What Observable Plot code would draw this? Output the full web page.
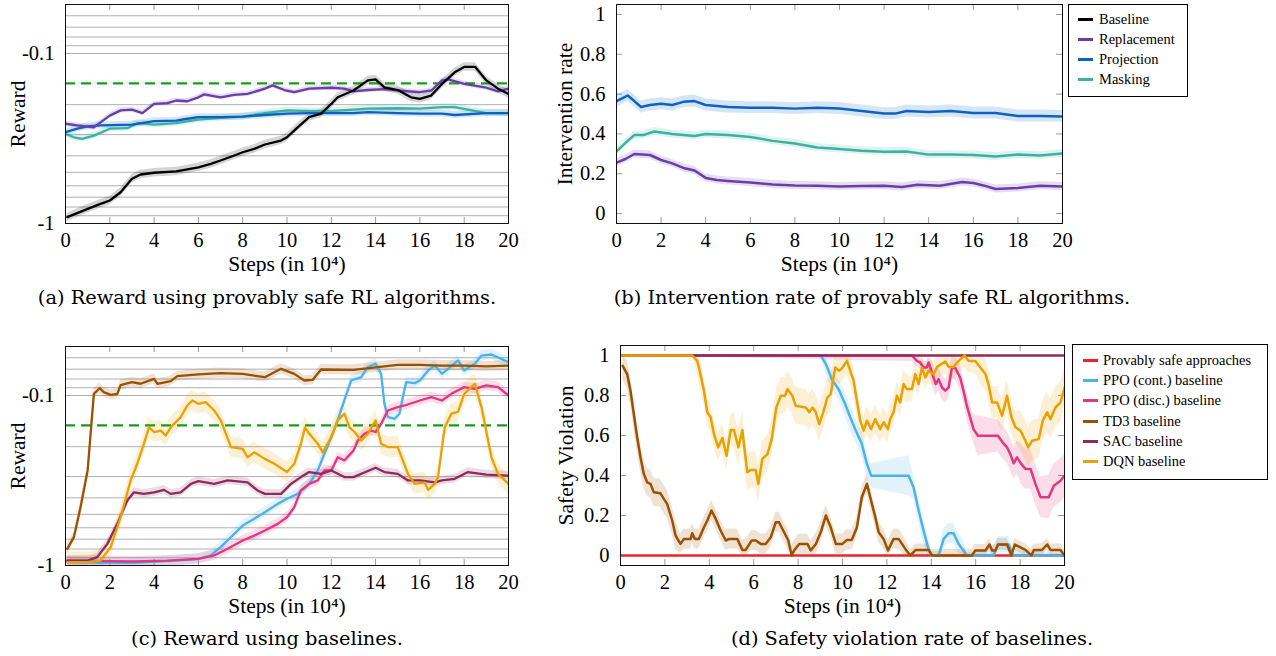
<!DOCTYPE html>
<html><head><meta charset="utf-8">
<script src="https://cdn.jsdelivr.net/npm/d3@7"></script>
<script src="https://cdn.jsdelivr.net/npm/@observablehq/plot@0.6"></script>
<style>
html,body{margin:0;padding:0;background:#fff;}
#root{position:relative;width:1276px;height:656px;overflow:hidden;font-family:"Liberation Serif",serif;color:#000;}
.panel{position:absolute;}
.cap{position:absolute;font-family:"DejaVu Serif",serif;font-size:19.4px;white-space:nowrap;transform:translateX(-50%);line-height:1;}
.legend{position:absolute;box-sizing:border-box;border:1px solid #000;background:#fff;font-family:"Liberation Serif",serif;font-size:14.5px;}
.legend .row{display:flex;align-items:center;white-space:nowrap;}
.legend .sw{display:inline-block;width:15px;height:3px;}
</style></head>
<body><div id="root"></div>
<script>
// ---------------- DATA ----------------
const xTicks = [0, 2, 4, 6, 8, 10, 12, 14, 16, 18, 20];
const rewardTicks = [-1, -0.1];
const rewardGrid = [-0.9, -0.8, -0.7, -0.6, -0.5, -0.4, -0.3, -0.2, -0.1, -0.09, -0.08, -0.07, -0.06];
const rateTicks = [0, 0.2, 0.4, 0.6, 0.8, 1];
const referenceReward = [-0.15];

const xTitle = "Steps (in 10\u2074)";
const captions = [
  "(a) Reward using provably safe RL algorithms.",
  "(b) Intervention rate of provably safe RL algorithms.",
  "(c) Reward using baselines.",
  "(d) Safety violation rate of baselines."
];
const safeNames = ["Baseline", "Replacement", "Projection", "Masking"];
const baseNames = ["Provably safe approaches", "PPO (cont.) baseline", "PPO (disc.) baseline", "TD3 baseline", "SAC baseline", "DQN baseline"];

// (a) reward, provably safe algorithms
const aBaseline = [[0.08,-0.918],[1,-0.82],[1.58,-0.766],[2,-0.732],[2.49,-0.655],[3,-0.546],[3.39,-0.515],[4,-0.503],[5,-0.494],[6,-0.467],[6.56,-0.446],[7,-0.426],[7.62,-0.398],[8,-0.381],[8.52,-0.364],[9,-0.343],[9.73,-0.325],[10,-0.311],[10.48,-0.272],[11,-0.237],[11.54,-0.226],[12,-0.198],[12.29,-0.181],[13,-0.165],[13.65,-0.144],[14,-0.142],[14.4,-0.158],[15,-0.164],[15.6,-0.181],[16,-0.185],[16.5,-0.177],[17,-0.151],[17.57,-0.129],[18,-0.12],[18.5,-0.12],[19,-0.144],[19.53,-0.161],[20,-0.173]];
const aReplacement = [[0,-0.259],[0.53,-0.265],[1,-0.269],[1.28,-0.272],[1.58,-0.254],[2,-0.232],[2.49,-0.216],[3,-0.214],[3.47,-0.224],[4,-0.198],[4.6,-0.196],[5,-0.189],[5.5,-0.191],[6,-0.181],[6.26,-0.174],[7,-0.181],[7.62,-0.175],[8.22,-0.173],[9,-0.161],[9.35,-0.154],[9.88,-0.164],[10.33,-0.169],[11,-0.161],[12,-0.159],[12.59,-0.161],[13,-0.167],[13.65,-0.164],[14.4,-0.162],[15,-0.165],[16,-0.169],[16.52,-0.165],[17,-0.144],[17.27,-0.142],[18,-0.151],[19,-0.159],[19.53,-0.167],[20,-0.161]];
const aProjection = [[0,-0.29],[0.53,-0.277],[1,-0.268],[1.58,-0.265],[3,-0.262],[4,-0.25],[5,-0.248],[5.5,-0.242],[6,-0.237],[7,-0.237],[8,-0.235],[9,-0.23],[10,-0.226],[11,-0.224],[12,-0.224],[13,-0.224],[13.65,-0.221],[15,-0.224],[16,-0.226],[17,-0.226],[17.57,-0.23],[19,-0.224],[20,-0.224]];
const aMasking = [[0,-0.297],[0.38,-0.311],[0.75,-0.318],[1.28,-0.304],[2,-0.277],[2.79,-0.275],[3.24,-0.257],[4,-0.262],[5,-0.257],[6,-0.245],[7,-0.239],[8,-0.235],[9,-0.224],[10,-0.216],[11,-0.218],[12,-0.218],[13,-0.214],[13.65,-0.211],[15,-0.21],[16,-0.211],[17,-0.207],[17.57,-0.207],[18.17,-0.214],[19,-0.224],[20,-0.224]];

// (b) intervention rate
const bReplacement = [[0,0.256],[0.4,0.274],[0.8,0.299],[1.5,0.294],[2,0.269],[2.5,0.252],[3,0.229],[3.5,0.216],[4,0.179],[4.5,0.169],[5,0.164],[6,0.156],[7,0.146],[8,0.141],[9,0.14],[10,0.136],[11,0.138],[12,0.14],[12.8,0.133],[13.5,0.145],[14.5,0.14],[15.5,0.158],[16,0.153],[16.5,0.14],[17,0.123],[18,0.128],[19,0.14],[20,0.136]];
const bProjection = [[0,0.565],[0.25,0.578],[0.5,0.593],[0.8,0.565],[1.1,0.535],[1.5,0.545],[2,0.551],[2.5,0.545],[3,0.561],[3.5,0.565],[4,0.545],[5,0.535],[6,0.532],[7,0.532],[8,0.527],[9,0.532],[10,0.528],[11,0.515],[12,0.502],[12.5,0.502],[13,0.515],[14,0.51],[15,0.515],[16,0.505],[17,0.505],[18,0.49],[19,0.49],[20,0.488]];
const bMasking = [[0,0.312],[0.5,0.365],[0.8,0.394],[1.2,0.394],[1.7,0.412],[2.5,0.399],[3.5,0.39],[4,0.399],[5,0.395],[6,0.385],[7,0.365],[8,0.352],[9,0.332],[10,0.324],[11,0.316],[12,0.311],[13,0.312],[14,0.296],[15,0.296],[16,0.294],[17,0.286],[18,0.296],[19,0.291],[20,0.302]];

// (c) reward, baselines
const cTD3 = [[0.08,-0.798],[0.38,-0.681],[0.68,-0.454],[1,-0.276],[1.28,-0.0978],[1.54,-0.0906],[1.73,-0.0955],[2.04,-0.0991],[2.34,-0.0978],[2.49,-0.0869],[3,-0.0835],[3.39,-0.0853],[4,-0.0798],[4.15,-0.0853],[4.75,-0.0824],[5.05,-0.0769],[6,-0.0752],[7,-0.0739],[8,-0.0746],[9,-0.078],[9.73,-0.0697],[10.33,-0.0746],[10.78,-0.0816],[11.16,-0.0809],[11.54,-0.0703],[13,-0.0706],[15,-0.066],[16,-0.066],[17,-0.0667],[18,-0.0667],[19,-0.0675],[20,-0.0667]];
const cSAC = [[0.08,-0.935],[1,-0.935],[1.43,-0.893],[1.89,-0.746],[2.34,-0.569],[2.79,-0.415],[3.09,-0.371],[3.54,-0.379],[4,-0.371],[4.45,-0.359],[4.75,-0.379],[5.2,-0.371],[5.66,-0.331],[6,-0.319],[6.71,-0.331],[7.32,-0.316],[8.22,-0.324],[8.67,-0.362],[9,-0.379],[9.73,-0.379],[10.18,-0.331],[10.63,-0.302],[11,-0.282],[11.54,-0.289],[12,-0.276],[12.59,-0.302],[13,-0.302],[14,-0.266],[14.4,-0.282],[15,-0.289],[15.46,-0.316],[16,-0.316],[16.67,-0.324],[17,-0.316],[17.57,-0.309],[18.17,-0.282],[19,-0.292],[20,-0.296]];
const cDQN = [[0.08,-0.956],[1,-0.956],[1.58,-0.935],[2.04,-0.78],[2.49,-0.52],[2.94,-0.316],[3.24,-0.252],[3.54,-0.192],[3.77,-0.154],[4,-0.164],[4.3,-0.161],[4.52,-0.172],[4.75,-0.154],[5.2,-0.134],[5.5,-0.1145],[5.73,-0.107],[6,-0.112],[6.33,-0.1094],[6.71,-0.1225],[7.01,-0.14],[7.47,-0.201],[8,-0.206],[8.22,-0.231],[8.52,-0.216],[9,-0.236],[9.43,-0.252],[10,-0.282],[10.33,-0.252],[10.63,-0.192],[10.81,-0.154],[11.01,-0.168],[11.39,-0.192],[11.61,-0.216],[12,-0.176],[12.29,-0.14],[12.59,-0.128],[12.82,-0.154],[13.05,-0.164],[13.35,-0.184],[13.65,-0.168],[14,-0.14],[14.25,-0.192],[14.55,-0.201],[15,-0.201],[15.46,-0.289],[15.76,-0.331],[16.21,-0.324],[16.37,-0.359],[16.67,-0.331],[16.82,-0.302],[17.12,-0.154],[17.42,-0.128],[17.72,-0.125],[18,-0.0978],[18.48,-0.0853],[18.78,-0.117],[19.23,-0.231],[19.53,-0.289],[20,-0.331]];
const cPPOcont = [[0.08,-0.956],[1.58,-0.965],[3.09,-0.965],[4.6,-0.943],[5.5,-0.926],[6,-0.914],[6.56,-0.873],[7,-0.78],[7.62,-0.651],[8,-0.582],[8.52,-0.531],[9,-0.486],[9.58,-0.434],[10,-0.405],[10.48,-0.379],[11,-0.331],[11.39,-0.276],[11.69,-0.22],[12,-0.176],[12.29,-0.14],[12.59,-0.107],[12.9,-0.0816],[13.35,-0.078],[13.65,-0.0681],[14,-0.0651],[14.25,-0.0746],[14.4,-0.112],[14.55,-0.134],[14.86,-0.137],[15.08,-0.128],[15.23,-0.1023],[15.38,-0.0835],[15.76,-0.0846],[16,-0.0816],[16.37,-0.0713],[16.67,-0.0667],[17,-0.0746],[17.27,-0.0697],[17.72,-0.0622],[18,-0.0713],[18.48,-0.0651],[18.78,-0.0582],[19.23,-0.0574],[19.68,-0.0609],[20,-0.0637]];
const cPPOdisc = [[0.08,-0.935],[3.09,-0.947],[4.6,-0.935],[6,-0.914],[6.71,-0.873],[7.32,-0.798],[8,-0.713],[8.52,-0.667],[9,-0.623],[9.58,-0.569],[10,-0.52],[10.33,-0.454],[10.63,-0.362],[11,-0.331],[11.39,-0.316],[11.69,-0.276],[12,-0.276],[12.29,-0.231],[12.59,-0.241],[13,-0.211],[13.2,-0.184],[13.5,-0.168],[13.8,-0.161],[14,-0.164],[14.25,-0.147],[14.55,-0.1225],[15,-0.117],[15.31,-0.1145],[16,-0.107],[16.52,-0.1023],[17,-0.107],[17.42,-0.0978],[18,-0.0893],[18.48,-0.0914],[19,-0.0873],[19.53,-0.0893],[20,-0.1]];

// (d) safety violation
const dProvablySafe = [[0,0],[20,0]];
const dSAC = [[0,1],[20,1]];
const dPPOcont = [[0,1],[9.02,1],[9.25,0.957],[9.55,0.874],[9.82,0.832],[10.12,0.757],[10.35,0.691],[10.57,0.632],[10.87,0.557],[11.1,0.458],[11.29,0.399],[12.98,0.399],[13.2,0.341],[13.43,0.225],[13.65,0.125],[13.85,0.042],[14,0],[14.33,0],[14.56,0.083],[14.78,0.111],[15,0.111],[15.23,0.058],[15.45,0.025],[15.6,0],[16.8,0],[17,0.055],[17.49,0.055],[17.67,0],[20,0]];
const dPPOdisc = [[0,1],[13.13,1],[13.35,0.973],[13.5,0.965],[13.65,0.94],[13.8,0.94],[13.88,0.965],[14.03,0.915],[14.2,0.857],[14.33,0.882],[14.48,0.84],[14.63,0.824],[14.78,0.84],[14.93,0.94],[15.08,0.937],[15.3,0.89],[15.45,0.824],[15.6,0.749],[15.75,0.691],[15.9,0.632],[16.1,0.599],[17,0.599],[17.21,0.566],[17.41,0.541],[17.56,0.507],[17.71,0.461],[17.86,0.491],[18.05,0.458],[18.24,0.433],[18.47,0.433],[18.69,0.358],[18.92,0.291],[19.29,0.291],[19.52,0.349],[19.82,0.374],[20,0.399]];
const dTD3 = [[0.1,0.948],[0.3,0.907],[0.45,0.824],[0.6,0.707],[0.75,0.591],[0.9,0.491],[1.05,0.408],[1.2,0.366],[1.35,0.358],[1.5,0.316],[1.8,0.311],[1.95,0.283],[2.1,0.258],[2.33,0.175],[2.48,0.1],[2.7,0.058],[2.86,0.083],[3.16,0.083],[3.23,0.111],[3.35,0.083],[3.53,0.083],[3.76,0.141],[3.91,0.175],[4.1,0.225],[4.29,0.183],[4.51,0.125],[4.74,0.075],[4.89,0.083],[5.26,0.083],[5.49,0.028],[5.64,0.028],[5.91,0.075],[6.09,0.075],[6.32,0.058],[6.54,0.058],[6.77,0.091],[6.99,0.166],[7.14,0.166],[7.37,0.116],[7.56,0.075],[7.71,0],[7.82,0.025],[8.05,0.058],[8.42,0.058],[8.57,0.025],[8.8,0.058],[9.02,0.116],[9.25,0.2],[9.47,0.141],[9.7,0.058],[10,0.058],[10.2,0.078],[10.42,0.078],[10.65,0.141],[10.87,0.291],[11.1,0.358],[11.25,0.291],[11.48,0.191],[11.63,0.116],[11.85,0.083],[12.05,0.025],[12.3,0.083],[12.53,0.083],[12.83,0.033],[13.05,0],[13.3,0.028],[13.88,0.028],[14.03,0],[15.83,0],[15.98,0.025],[16.44,0.025],[16.62,0.055],[16.74,0.025],[16.89,0.025],[17.01,0.055],[17.41,0.055],[17.61,0],[17.76,0.055],[18.24,0.028],[18.51,0],[18.62,0.028],[18.99,0.028],[19.22,0.055],[19.37,0.028],[19.82,0.028],[20,0]];
const dDQN = [[0,1],[3.23,1],[3.46,0.973],[3.6,0.907],[3.76,0.824],[3.91,0.716],[4.06,0.691],[4.21,0.607],[4.4,0.541],[4.59,0.587],[4.78,0.499],[4.96,0.627],[5.11,0.627],[5.31,0.541],[5.49,0.627],[5.71,0.416],[5.86,0.428],[6.09,0.428],[6.21,0.358],[6.39,0.483],[6.62,0.507],[6.81,0.582],[7.02,0.74],[7.22,0.799],[7.41,0.799],[7.52,0.832],[7.74,0.799],[7.89,0.749],[8.35,0.74],[8.5,0.716],[8.65,0.74],[8.8,0.716],[8.95,0.657],[9.13,0.716],[9.32,0.79],[9.47,0.807],[9.67,0.94],[9.85,0.923],[10,0.94],[10.2,0.973],[10.35,0.923],[10.5,0.874],[10.65,0.774],[10.8,0.674],[10.95,0.624],[11.1,0.674],[11.29,0.632],[11.47,0.682],[11.7,0.632],[11.85,0.666],[12.05,0.632],[12.15,0.682],[12.3,0.716],[12.45,0.799],[12.6,0.765],[12.75,0.857],[12.9,0.832],[13.13,0.832],[13.28,0.907],[13.43,0.857],[13.58,0.94],[13.73,0.89],[13.88,0.923],[14.11,0.907],[14.26,0.943],[14.63,0.97],[14.78,0.943],[15,0.943],[15.23,0.973],[15.5,1],[15.68,0.973],[15.98,0.973],[16.21,0.94],[16.44,0.907],[16.59,0.849],[16.74,0.765],[16.96,0.765],[17.19,0.699],[17.41,0.799],[17.61,0.691],[17.79,0.641],[18.02,0.624],[18.24,0.574],[18.36,0.541],[18.54,0.574],[18.84,0.582],[19.02,0.674],[19.22,0.716],[19.37,0.682],[19.59,0.74],[19.82,0.765],[20,0.84]];
// (d) half-width of the shaded bands, piecewise from the given step onward
const dPPOcontBand = [[0,0],[9.1,0.05],[10,0.06],[11.3,0.1],[13.1,0.06],[13.9,0.02],[14.4,0.05],[15.5,0.01],[16.8,0.04],[17.7,0.005]];
const dPPOdiscBand = [[0,0],[13.1,0.03],[14,0.06],[15.5,0.07],[16,0.1],[17,0.08],[18,0.1],[19,0.11]];
const dTD3Band = [[0,0.07],[2.5,0.05],[13,0.03]];
const dDQNBand = [[0,0],[3.3,0.07],[5,0.09],[9.5,0.07],[13,0.06],[16,0.08],[18,0.1]];

// ---------------- STYLE ----------------
const C = {
  Baseline: "#000000", Replacement: "#6a3ea8", Projection: "#0b63c1", Masking: "#3bb1a2",
  safe: "#e8252d", ppoc: "#4db2e8", ppod: "#e2367f", td3: "#9b5100", sac: "#8e2b5c", dqn: "#e9a100",
  ref: "#16a016"
};
const FONT = "Liberation Serif";
const tickGray = "#9a9a9a";
const TICK_FS = 20.5, TITLE_FS = 21.5;

function rows(pairs) { return pairs.map(([x, y]) => ({x, y})); }
function bandAt(band, x) {
  let w = 0;
  for (const [x0, v] of band) if (x >= x0) w = v;
  return w;
}

function panel(o) {
  const [bl, bt, bw, bh] = o.box;
  const [fl, ft, fr, fb] = o.frame;
  const fw = fr - fl, fh = fb - ft;
  const isLog = o.yType === "log";
  const marks = [];
  if (o.grid) marks.push(Plot.ruleY(o.grid, {stroke: "#b0b0b0", strokeWidth: 1}));
  const innerX = xTicks.filter(v => v > 0 && v < 20);
  marks.push(Plot.ruleX(innerX, {stroke: tickGray, insetBottom: fh - 6}));
  marks.push(Plot.ruleX(innerX, {stroke: tickGray, insetTop: fh - 6}));
  if (o.innerY) {
    marks.push(Plot.ruleY(o.innerY, {stroke: tickGray, insetRight: fw - 6}));
    marks.push(Plot.ruleY(o.innerY, {stroke: tickGray, insetLeft: fw - 6}));
  }
  for (const s of o.series) {
    if (!s.spread && !s.band) continue;
    const r = rows(s.data);
    let opts;
    if (isLog) {
      const k = Math.pow(10, s.spread);
      opts = {y1: d => d.y * k, y2: d => d.y / k};
    } else if (s.band) {
      opts = {y1: d => Math.max(0, d.y - bandAt(s.band, d.x)), y2: d => Math.min(1, d.y + bandAt(s.band, d.x))};
    } else {
      opts = {y1: d => d.y - s.spread, y2: d => d.y + s.spread};
    }
    marks.push(Plot.areaY(r, {x: "x", ...opts, fill: s.color, fillOpacity: 0.17, clip: true}));
  }
  if (o.reference) marks.push(Plot.ruleY(o.reference, {stroke: C.ref, strokeWidth: 2.3, strokeDasharray: "10,6"}));
  for (const s of o.series) {
    marks.push(Plot.line(rows(s.data), {x: "x", y: "y", stroke: s.color, strokeWidth: s.width || 2.3, clip: true}));
  }
  marks.push(Plot.frame({stroke: "#111", strokeWidth: 1}));
  marks.push(Plot.axisX(xTicks, {tickSize: 0, tickPadding: 9, fontSize: TICK_FS, tickFormat: d => String(d), label: null}));
  marks.push(Plot.axisY(o.yTicks, {tickSize: 0, tickPadding: 11, fontSize: TICK_FS, tickFormat: d => String(d), label: null}));
  marks.push(Plot.text([xTitle], {frameAnchor: "bottom", dy: 41, fontSize: TITLE_FS, textAnchor: "middle", lineAnchor: "middle"}));
  marks.push(Plot.text([o.ylabel], {frameAnchor: "left", dx: o.ylabelDx, rotate: -90, fontSize: TITLE_FS, textAnchor: "middle", lineAnchor: "middle"}));

  const svg = Plot.plot({
    width: bw, height: bh,
    marginLeft: fl - bl, marginTop: ft - bt, marginRight: bl + bw - fr, marginBottom: bt + bh - fb,
    x: {domain: [0, 20], label: null},
    y: {type: o.yType, domain: o.yDomain, label: null},
    style: {fontFamily: FONT, fontSize: TICK_FS + "px", background: "transparent", overflow: "visible", maxWidth: "none", color: "#000"},
    marks
  });
  const div = document.createElement("div");
  div.className = "panel";
  div.style.left = bl + "px"; div.style.top = bt + "px"; div.style.width = bw + "px"; div.style.height = bh + "px";
  div.appendChild(svg);
  root.appendChild(div);
}

function legend(items, left, top, width, height, padTop, padLeft, gap, rowH) {
  const box = document.createElement("div");
  box.className = "legend";
  Object.assign(box.style, {left: left + "px", top: top + "px", width: width + "px", height: height + "px", padding: padTop + "px 0 0 " + padLeft + "px"});
  for (const [name, color] of items) {
    const r = document.createElement("div");
    r.className = "row"; r.style.height = rowH + "px";
    const sw = document.createElement("span");
    sw.className = "sw"; sw.style.background = color; sw.style.marginRight = gap + "px";
    r.appendChild(sw);
    r.appendChild(document.createTextNode(name));
    box.appendChild(r);
  }
  root.appendChild(box);
}

function caption(text, cx, top) {
  const d = document.createElement("div");
  d.className = "cap";
  d.style.left = cx + "px"; d.style.top = top + "px";
  d.textContent = text;
  root.appendChild(d);
}

const root = document.getElementById("root");

// (a)
panel({
  box: [0, 0, 525, 285], frame: [65, 4, 508, 223],
  yType: "log", yDomain: [-1, -0.0515], yTicks: rewardTicks, grid: rewardGrid, reference: referenceReward,
  ylabel: "Reward", ylabelDx: -47,
  series: [
    {data: aMasking, color: C.Masking, spread: 0.02},
    {data: aProjection, color: C.Projection, spread: 0.02},
    {data: aReplacement, color: C.Replacement, spread: 0.015},
    {data: aBaseline, color: C.Baseline, spread: 0.025}
  ]
});
// (b)
panel({
  box: [530, 0, 545, 285], frame: [616, 4, 1062, 223],
  yType: "linear", yDomain: [-0.05, 1.05], yTicks: rateTicks, innerY: rateTicks,
  ylabel: "Intervention rate", ylabelDx: -51,
  series: [
    {data: bReplacement, color: C.Replacement, spread: 0.02, width: 2.5},
    {data: bProjection, color: C.Projection, spread: 0.03, width: 2.5},
    {data: bMasking, color: C.Masking, spread: 0.02, width: 2.5}
  ]
});
legend(safeNames.map(n => [n, C[n]]), 1068, 4, 120, 93, 4, 9, 6, 20);

// (c)
panel({
  box: [0, 330, 525, 285], frame: [65, 346, 508, 565],
  yType: "log", yDomain: [-1, -0.0515], yTicks: rewardTicks, grid: rewardGrid, reference: referenceReward,
  ylabel: "Reward", ylabelDx: -47,
  series: [
    {data: cPPOcont, color: C.ppoc, spread: 0.03},
    {data: cPPOdisc, color: C.ppod, spread: 0.03},
    {data: cTD3, color: C.td3, spread: 0.03},
    {data: cSAC, color: C.sac, spread: 0.025},
    {data: cDQN, color: C.dqn, spread: 0.06}
  ]
});
// (d)
panel({
  box: [530, 330, 545, 285], frame: [620, 345, 1064, 565],
  yType: "linear", yDomain: [-0.05, 1.05], yTicks: rateTicks, innerY: rateTicks,
  ylabel: "Safety Violation", ylabelDx: -54,
  series: [
    {data: dProvablySafe, color: C.safe, width: 2.6},
    {data: dPPOcont, color: C.ppoc, band: dPPOcontBand, width: 2.5},
    {data: dPPOdisc, color: C.ppod, band: dPPOdiscBand, width: 2.5},
    {data: dTD3, color: C.td3, band: dTD3Band, width: 2.5},
    {data: dSAC, color: C.sac, width: 2.6},
    {data: dDQN, color: C.dqn, band: dDQNBand, width: 2.5}
  ]
});
legend([[baseNames[0], C.safe], [baseNames[1], C.ppoc], [baseNames[2], C.ppod], [baseNames[3], C.td3], [baseNames[4], C.sac], [baseNames[5], C.dqn]], 1072, 344, 196, 136, 5, 10, 5, 20.3);

caption(captions[0], 267, 288);
caption(captions[1], 872, 288);
caption(captions[2], 267, 629);
caption(captions[3], 912, 629);
</script>
</body></html>
